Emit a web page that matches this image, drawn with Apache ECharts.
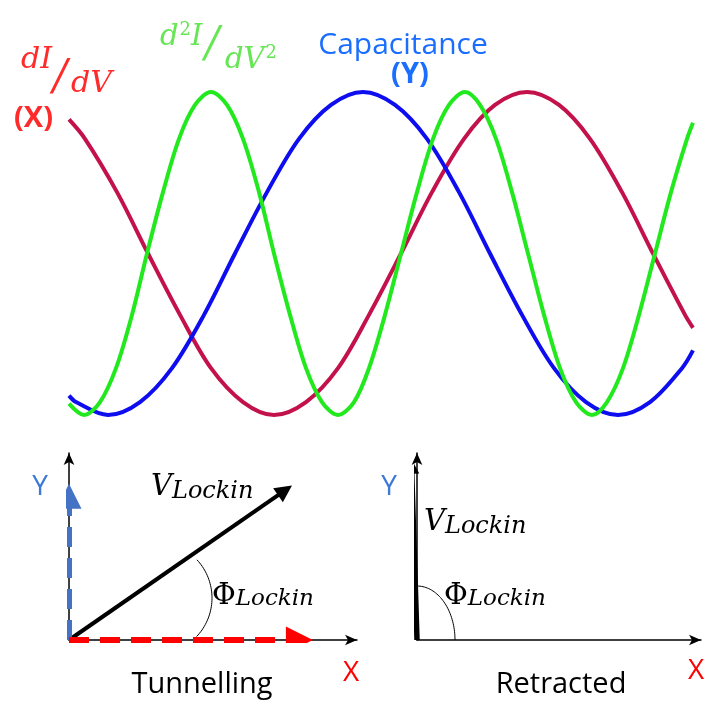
<!DOCTYPE html>
<html>
<head>
<meta charset="utf-8">
<script src="https://cdn.jsdelivr.net/npm/echarts@6/dist/echarts.min.js"></script>
<style>
  html, body { margin: 0; padding: 0; background: #fff; }
  #chart { width: 708px; height: 704px; }
</style>
</head>
<body>
<div id="chart"></div>
<script>
// Lock-in signal components versus time (arbitrary units, amplitude normalised to ±1)
const dIdV_t = [0, 16, 48, 79, 111, 142, 174, 205, 237, 269, 300, 332, 363, 395, 426, 458, 490, 521, 553, 584, 616, 624];
const dIdV_v = [0.83, 0.71, 0.38, 0, -0.38, -0.71, -0.92, -1, -0.92, -0.71, -0.38, 0, 0.38, 0.71, 0.92, 1, 0.92, 0.71, 0.38, 0, -0.38, -0.46];

const d2IdV2_t = [0, 15, 31, 47, 63, 78, 94, 110, 126, 142, 158, 174, 190, 205, 221, 237, 253, 269, 285, 300, 316, 332, 348, 364, 380, 396, 411, 427, 443, 459, 475, 491, 507, 523, 538, 554, 570, 586, 602, 618, 624];
const d2IdV2_v = [-0.93, -1, -0.92, -0.71, -0.38, 0, 0.38, 0.71, 0.92, 1, 0.92, 0.71, 0.38, 0, -0.38, -0.71, -0.92, -1, -0.92, -0.71, -0.38, 0, 0.38, 0.71, 0.92, 1, 0.92, 0.71, 0.38, 0, -0.38, -0.71, -0.92, -1, -0.92, -0.71, -0.38, 0, 0.38, 0.71, 0.81];

const cap_t = [0, 7, 39, 71, 103, 135, 166, 198, 230, 262, 294, 326, 358, 390, 421, 453, 485, 517, 549, 581, 613, 624];
const cap_v = [-0.88, -0.92, -1, -0.92, -0.71, -0.38, 0, 0.38, 0.71, 0.92, 1, 0.92, 0.71, 0.38, 0, -0.38, -0.71, -0.92, -1, -0.92, -0.71, -0.60];

// Phasor diagrams: end points of the vectors in the X/Y plane
const tunnelX = [8.0, 0];
const tunnelY = [0, 5.0];
const tunnelV = [7.5, 5.2];
const retractedV = [-0.19, 6.04];

const pairs = (t, v) => t.map((x, i) => [x, v[i]]);

const RED_LINE = '#C3124B', GREEN_LINE = '#22E81E', BLUE_LINE = '#0D0DEF';
const SERIF = '"DejaVu Serif", serif';
const SANS = '"Open Sans", sans-serif';

const chart = echarts.init(document.getElementById('chart'), null, { renderer: 'canvas' });

const hiddenAxis = (gi, min, max) => ({
  type: 'value', gridIndex: gi, min, max, show: false,
  splitLine: { show: false }
});
const arrowAxis = (gi, min, max) => ({
  type: 'value', gridIndex: gi, min, max,
  axisLine: { show: true, onZero: false, symbol: ['none', 'arrow'], symbolSize: [8, 12],
              lineStyle: { color: '#000', width: 1.5 } },
  axisTick: { show: false }, axisLabel: { show: false }, splitLine: { show: false }
});

const vector = (gi, end, color, width, dashed, size) => ({
  type: 'lines', coordinateSystem: 'cartesian2d', xAxisIndex: gi, yAxisIndex: gi,
  symbol: ['none', 'triangle'], symbolSize: size, silent: true, z: 5,
  lineStyle: { color, width, opacity: 1, type: dashed ? [20, 11] : 'solid', cap: 'butt' },
  data: [{ coords: [[0, 0], end] }]
});

const curve = (name, t, v, color) => ({
  type: 'line', name, data: pairs(t, v), smooth: 0.33, showSymbol: false, clip: false,
  lineStyle: { color, width: 4 }
});

chart.setOption({
  animation: false,
  backgroundColor: '#fff',
  grid: [
    { left: 69, top: 92, width: 624, height: 323 },
    { left: 69, top: 453, width: 288, height: 187 },
    { left: 417, top: 453, width: 284, height: 187 }
  ],
  xAxis: [hiddenAxis(0, 0, 624), arrowAxis(1, 0, 10), arrowAxis(2, 0, 9.86)],
  yAxis: [hiddenAxis(0, -1, 1), arrowAxis(1, 0, 6.5), arrowAxis(2, 0, 6.5)],
  series: [
    curve('dI/dV', dIdV_t, dIdV_v, RED_LINE),
    curve('Capacitance', cap_t, cap_v, BLUE_LINE),
    curve('d2I/dV2', d2IdV2_t, d2IdV2_v, GREEN_LINE),
    vector(1, tunnelV, '#000', 4, false, 17),
    vector(1, tunnelY, '#4472C4', 5, true, 25),
    vector(1, tunnelX, '#FF0000', 6, true, 27),
    vector(2, retractedV, '#000', 5.5, false, 15)
  ]
});

// Angle arcs drawn in pixel space around each diagram's origin
function arcPoints(cx, cy, rx, ry, a0, a1, n) {
  const pts = [];
  for (let i = 0; i <= n; i++) {
    const a = (a0 + (a1 - a0) * i / n) * Math.PI / 180;
    pts.push([cx + rx * Math.cos(a), cy + ry * Math.sin(a)]);
  }
  return pts;
}
const o1 = chart.convertToPixel({ gridIndex: 1 }, [0, 0]);
const o2 = chart.convertToPixel({ gridIndex: 2 }, [0, 0]);

const txt = (x, y, text, font, fill, align) => ({
  type: 'text', x, y, silent: true, z: 10,
  style: { text, font, fill, align: align || 'left', verticalAlign: 'middle' }
});
// italic math text with an optional raised "2"
const math = (x, y, parts, color, size) => ({
  type: 'text', x, y, silent: true, z: 10,
  style: {
    text: parts, align: 'left', verticalAlign: 'middle',
    rich: {
      m: { font: 'italic ' + size + 'px ' + SERIF, fill: color },
      p: { font: Math.round(size * 0.62) + 'px ' + SERIF, fill: color, padding: [0, 0, 14, 1] }
    }
  }
});
const sub = (x, y, main, subText, color, mainSize, subSize) => ({
  type: 'text', x, y, silent: true, z: 10,
  style: {
    text: '{m|' + main + '}{s|' + subText + '}', align: 'left', verticalAlign: 'middle',
    rich: {
      m: { font: 'italic ' + mainSize + 'px ' + SERIF, fill: color },
      s: { font: 'italic ' + subSize + 'px ' + SERIF, fill: color, padding: [10, 0, 0, 0] }
    }
  }
});
const phi = (x, y) => ({
  type: 'text', x, y, silent: true, z: 10,
  style: {
    text: '{m|Φ}{s|Lockin}', align: 'left', verticalAlign: 'middle',
    rich: {
      m: { font: '29px ' + SERIF, fill: '#000' },
      s: { font: 'italic 23px ' + SERIF, fill: '#000', padding: [6, 0, 0, 0] }
    }
  }
});

chart.setOption({
  graphic: [
    { type: 'polyline', silent: true, shape: { points: arcPoints(o1[0] + 87, o1[1] - 42, 56, 56, -43, 43.5, 40) },
      style: { stroke: '#000', lineWidth: 1, fill: null } },
    { type: 'polyline', silent: true, shape: { points: arcPoints(o2[0], o2[1], 38, 54, -90, 0, 40) },
      style: { stroke: '#000', lineWidth: 1, fill: null } },

    // curve labels
    math(21, 60, '{m|dI}', '#FF2A2A', 30),
    txt(53, 78, '/', 'italic 42px ' + SERIF, '#FF2A2A'),
    math(71, 84, '{m|dV}', '#FF2A2A', 30),
    txt(14, 119, '(X)', 'bold 29px ' + SANS, '#FF2A2A'),

    math(160, 37, '{m|d}{p|2}{m|I}', '#66E655', 29),
    txt(205, 45, '/', 'italic 42px ' + SERIF, '#66E655'),
    math(225, 60, '{m|dV}{p|2}', '#66E655', 29),

    txt(403, 45, 'Capacitance', '30px ' + SANS, '#1A6EFF', 'center'),
    txt(410, 75, '(Y)', 'bold 29px ' + SANS, '#1A6EFF', 'center'),

    // tunnelling phasor labels
    sub(151, 487, 'V', 'Lockin', '#000', 29, 24),
    phi(212, 596),
    txt(40, 487, 'Y', '28px ' + SANS, '#3C78D8', 'center'),
    txt(351, 673, 'X', '28px ' + SANS, '#FF0000', 'center'),
    txt(202, 685, 'Tunnelling', '29px ' + SANS, '#000', 'center'),

    // retracted phasor labels
    sub(424, 522, 'V', 'Lockin', '#000', 29, 24),
    phi(444, 596),
    txt(389, 487, 'Y', '28px ' + SANS, '#3C78D8', 'center'),
    txt(696, 671, 'X', '28px ' + SANS, '#FF0000', 'center'),
    txt(561, 685, 'Retracted', '29px ' + SANS, '#000', 'center')
  ]
});
</script>
</body>
</html>
